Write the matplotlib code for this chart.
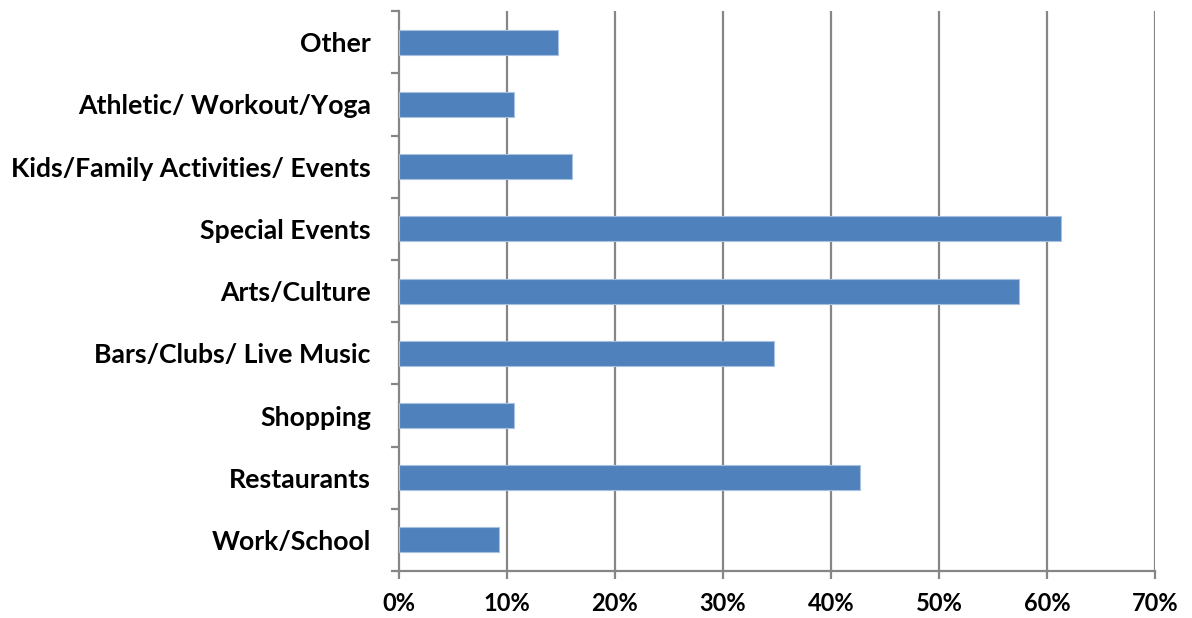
import matplotlib
matplotlib.use("Agg")
import matplotlib.pyplot as plt
import numpy as np
from matplotlib.ticker import FixedLocator, PercentFormatter

# bottom to top, as drawn
categories = ['Work/School', 'Restaurants', 'Shopping', 'Bars/Clubs/ Live Music',
              'Arts/Culture', 'Special Events', 'Kids/Family Activities/ Events',
              'Athletic/ Workout/Yoga', 'Other']
values = [9.3, 42.7, 10.7, 34.7, 57.4, 61.3, 16.0, 10.7, 14.7]
xticks = [0, 10, 20, 30, 40, 50, 60, 70]

plt.rcParams['font.family'] = ['Lato', 'DejaVu Sans']
plt.rcParams['font.weight'] = 'bold'

fig = plt.figure(figsize=(11.92, 6.18), dpi=100)
ax = fig.add_axes([0.3345, 0.076, 0.6345, 0.906])

grid_col = '#868686'
y = np.arange(len(categories))
ax.barh(y, values, height=0.4, color='#4F81BD', edgecolor='#A9C1E1', linewidth=0.8, zorder=3)

ax.set_xlim(0, 70)
ax.set_ylim(-0.5, len(categories) - 0.5)
ax.set_xticks(xticks)
ax.xaxis.set_major_formatter(PercentFormatter(decimals=0))
ax.set_yticks(y)
ax.set_yticklabels(categories)
ax.yaxis.set_minor_locator(FixedLocator(np.arange(-0.5, len(categories), 1)))

for gx in xticks[1:]:
    ax.axvline(gx, color=grid_col, linewidth=1.6, zorder=1)

for side in ['top', 'right']:
    ax.spines[side].set_visible(False)
for side in ['left', 'bottom']:
    ax.spines[side].set_color(grid_col)
    ax.spines[side].set_linewidth(1.6)

ax.tick_params(axis='y', which='major', length=0, pad=20, labelsize=19.2)
ax.tick_params(axis='y', which='minor', length=6, width=1.6, color=grid_col)
ax.tick_params(axis='x', which='major', length=6, width=1.6, color=grid_col,
               pad=9, labelsize=17)
for lab in ax.get_xticklabels() + ax.get_yticklabels():
    lab.set_fontweight('bold')

fig.savefig('out.png', dpi=100)
